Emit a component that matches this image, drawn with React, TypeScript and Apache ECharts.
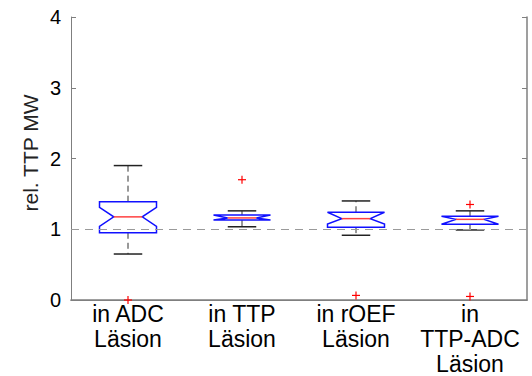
import React, { useEffect, useRef } from "react";
import * as echarts from "echarts";

// Groups on the x axis
const categories = ["in ADC\nLäsion", "in TTP\nLäsion", "in rOEF\nLäsion", "in\nTTP-ADC\nLäsion"];

// Five-number summaries of rel. TTP MW per group
const whiskerLow = [0.65, 1.035, 0.915, 0.99];
const q1 = [0.95, 1.13, 1.03, 1.07];
const median = [1.175, 1.16, 1.15, 1.14];
const q3 = [1.39, 1.2, 1.24, 1.185];
const whiskerHigh = [1.9, 1.26, 1.4, 1.26];

// Notch limits (confidence interval of the median)
const notchLow = [1.04, 1.1, 1.075, 1.05];
const notchHigh = [1.31, 1.22, 1.26, 1.22];

// Outliers: [group index, value]
const outliers: [number, number][] = [
  [0, 0.0],
  [1, 1.7],
  [2, 0.065],
  [3, 1.35],
  [3, 0.05],
];

const yTicks = [0, 1, 2, 3, 4];
const refValue = 1;

const FONT = "'Liberation Sans', Arial, sans-serif";
const AXIS_COLOR = "#7f7f7f";

export default function App() {
  const ref = useRef<HTMLDivElement>(null);

  useEffect(() => {
    if (!ref.current) return;
    const chart = echarts.init(ref.current, null, { renderer: "svg" });

    const boxData = categories.map((_, i) => [
      i,
      whiskerLow[i],
      q1[i],
      median[i],
      q3[i],
      whiskerHigh[i],
      notchLow[i],
      notchHigh[i],
    ]);

    const renderBox = (params: any, api: any) => {
      const i = api.value(0);
      const band = api.size([1, 0])[0];
      const cx = api.coord([i, 0])[0];
      const y = (v: number) => api.coord([i, v])[1];
      const wl = api.value(1);
      const lo = api.value(2);
      const md = api.value(3);
      const hi = api.value(4);
      const wh = api.value(5);
      const nl = Math.max(api.value(6), lo);
      const nh = Math.min(api.value(7), hi);
      const hb = band * 0.25;
      const hn = band * 0.125;
      const hc = band * 0.125;
      const whiskerStyle = { stroke: "#333", lineWidth: 1, lineDash: [6, 4] };
      const capStyle = { stroke: "#222", lineWidth: 1.5 };
      return {
        type: "group",
        children: [
          { type: "line", shape: { x1: cx, y1: y(hi), x2: cx, y2: y(wh) }, style: whiskerStyle },
          { type: "line", shape: { x1: cx, y1: y(lo), x2: cx, y2: y(wl) }, style: whiskerStyle },
          { type: "line", shape: { x1: cx - hc, y1: y(wh), x2: cx + hc, y2: y(wh) }, style: capStyle },
          { type: "line", shape: { x1: cx - hc, y1: y(wl), x2: cx + hc, y2: y(wl) }, style: capStyle },
          {
            type: "polygon",
            shape: {
              points: [
                [cx - hb, y(hi)],
                [cx + hb, y(hi)],
                [cx + hb, y(nh)],
                [cx + hn, y(md)],
                [cx + hb, y(nl)],
                [cx + hb, y(lo)],
                [cx - hb, y(lo)],
                [cx - hb, y(nl)],
                [cx - hn, y(md)],
                [cx - hb, y(nh)],
              ],
            },
            style: { fill: "none", stroke: "#1010ff", lineWidth: 1.5 },
          },
          {
            type: "line",
            shape: { x1: cx - hn, y1: y(md), x2: cx + hn, y2: y(md) },
            style: { stroke: "#ff4040", lineWidth: 1.5 },
          },
        ],
      };
    };

    const renderOutlier = (params: any, api: any) => {
      const p = api.coord([api.value(0), api.value(1)]);
      const s = 4;
      const st = { stroke: "#ff0000", lineWidth: 1.2 };
      return {
        type: "group",
        children: [
          { type: "line", shape: { x1: p[0] - s, y1: p[1], x2: p[0] + s, y2: p[1] }, style: st },
          { type: "line", shape: { x1: p[0], y1: p[1] - s, x2: p[0], y2: p[1] + s }, style: st },
        ],
      };
    };

    const yMin = yTicks[0];
    const yMax = yTicks[yTicks.length - 1];

    chart.setOption({
      animation: false,
      backgroundColor: "#ffffff",
      grid: { left: 71, right: 5, top: 17, bottom: 73 },
      xAxis: [
        {
          type: "category",
          data: categories,
          position: "bottom",
          axisLine: { lineStyle: { color: AXIS_COLOR, width: 1.5 } },
          axisTick: { inside: true, alignWithLabel: true, length: 5, lineStyle: { color: AXIS_COLOR } },
          axisLabel: {
            color: "#000",
            fontFamily: FONT,
            fontSize: 23,
            lineHeight: 25,
            margin: 1,
            interval: 0,
          },
          splitLine: { show: false },
        },
        {
          type: "category",
          data: categories,
          position: "top",
          axisLine: { lineStyle: { color: AXIS_COLOR, width: 1 } },
          axisTick: { inside: true, alignWithLabel: true, length: 5, lineStyle: { color: AXIS_COLOR } },
          axisLabel: { show: false },
          splitLine: { show: false },
        },
      ],
      yAxis: [
        {
          type: "value",
          min: yMin,
          max: yMax,
          interval: 1,
          position: "left",
          axisLine: { show: true, lineStyle: { color: AXIS_COLOR, width: 1 } },
          axisTick: { show: true, inside: true, length: 5, lineStyle: { color: AXIS_COLOR } },
          axisLabel: { color: "#000", fontFamily: FONT, fontSize: 20, margin: 10 },
          splitLine: { show: false },
        },
        {
          type: "value",
          min: yMin,
          max: yMax,
          interval: 1,
          position: "right",
          axisLine: { show: true, lineStyle: { color: AXIS_COLOR, width: 1.5 } },
          axisTick: { show: true, inside: true, length: 5, lineStyle: { color: AXIS_COLOR } },
          axisLabel: { show: false },
          splitLine: { show: false },
        },
      ],
      graphic: [
        {
          type: "text",
          x: 30,
          y: 153,
          rotation: Math.PI / 2,
          style: {
            text: "rel. TTP MW",
            fontFamily: FONT,
            fontSize: 21,
            fill: "#222",
            textAlign: "center",
            textVerticalAlign: "middle",
          },
        },
      ],
      series: [
        {
          type: "line",
          data: [],
          xAxisIndex: 0,
          yAxisIndex: 0,
          silent: true,
          markLine: {
            silent: true,
            symbol: "none",
            label: { show: false },
            lineStyle: { color: "#9a9a9a", width: 1, type: [8, 6] },
            data: [{ yAxis: refValue }],
          },
        },
        {
          type: "custom",
          xAxisIndex: 0,
          yAxisIndex: 0,
          data: boxData,
          encode: { x: 0, y: [1, 2, 3, 4, 5] },
          renderItem: renderBox,
          z: 3,
        },
        {
          type: "custom",
          xAxisIndex: 0,
          yAxisIndex: 0,
          data: outliers,
          encode: { x: 0, y: 1 },
          renderItem: renderOutlier,
          clip: false,
          z: 4,
        },
      ],
    });

    return () => chart.dispose();
  }, []);

  return (
    <div
      ref={ref}
      style={{ position: "fixed", left: 0, top: 0, width: 532, height: 376 }}
    />
  );
}
